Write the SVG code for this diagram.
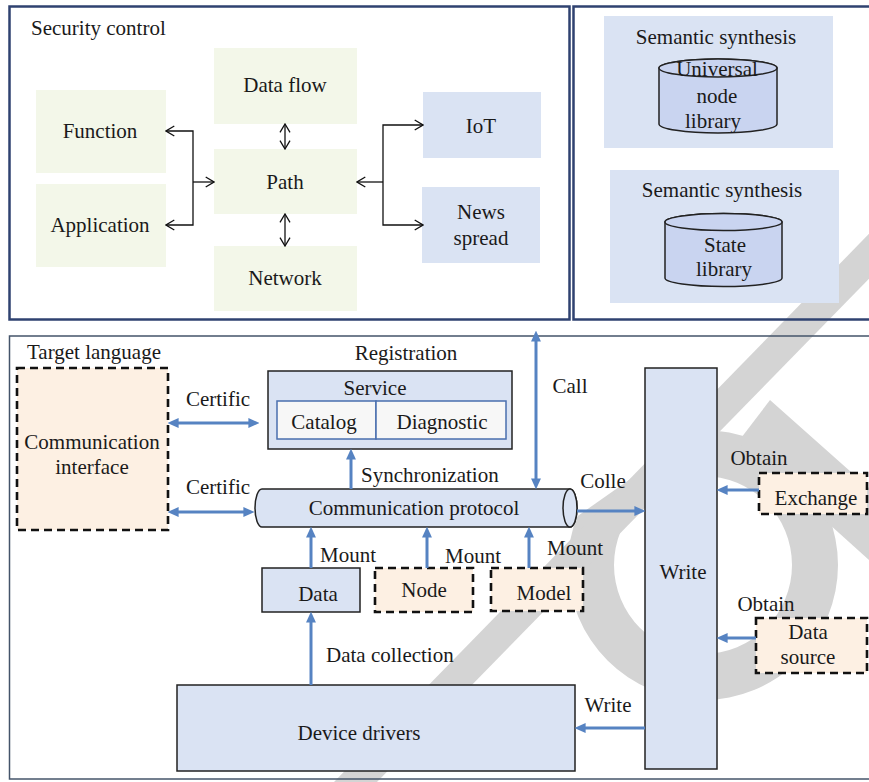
<svg xmlns="http://www.w3.org/2000/svg" width="869" height="782" viewBox="0 0 869 782">
<defs>
<style>
text{font-family:"Liberation Serif","Times New Roman",serif;font-size:21px;fill:#1a1a1a;text-anchor:middle}
.st{text-anchor:start}
.frame{fill:none;stroke:#2f4270;stroke-width:2.5}
.g{fill:#f3f7e9}
.b{fill:#dae3f3}
.bs{fill:#dae3f3;stroke:#222;stroke-width:1.5}
.cyl{fill:#c9d4f0;stroke:#222;stroke-width:1.5}
.dash{fill:#fdf0e3;stroke:#111;stroke-width:2.6;stroke-dasharray:8 5}
.sub{fill:#f7f7f7;stroke:#4a6fae;stroke-width:1.5}
.bk{fill:none;stroke:#111;stroke-width:1.3}
.bl{fill:none;stroke:#5683c2;stroke-width:3}
.wm{fill:#d4d4d4}
</style>
<marker id="ba" viewBox="0 0 10 10" refX="6" refY="5" markerWidth="11" markerHeight="11" markerUnits="userSpaceOnUse" orient="auto-start-reverse"><path d="M0,0.5 L10,5 L0,9.5 Z" fill="#5683c2"/></marker>
<marker id="ka" viewBox="0 0 10 12" refX="9.3" refY="6" markerWidth="10" markerHeight="12" markerUnits="userSpaceOnUse" orient="auto-start-reverse"><path d="M1,1 L9.3,6 L1,11" fill="none" stroke="#111" stroke-width="1.3"/></marker>
</defs>
<rect width="869" height="782" fill="#fff"/>

<g id="watermark">
<path class="wm" fill-rule="evenodd" d="M568,565 A135,135 0 1 0 838,565 A135,135 0 1 0 568,565 Z M614,565 A89,89 0 1 1 792,565 A89,89 0 1 1 614,565 Z"/>
<polygon fill="#fff" points="555,532 700,430 700,380 555,380"/>
<polygon class="wm" points="902,200 946,200 377,782 334,782"/>
<polygon class="wm" points="770,400 869,488 869,560 738,442"/>
</g>

<g id="frames">
<rect class="frame" x="9.5" y="6.5" width="560" height="313"/>
<rect class="frame" x="573.5" y="6.5" width="300" height="313"/>
<rect x="9.5" y="336" width="865" height="443" fill="none" stroke="#44546a" stroke-width="1.5"/>
</g>

<text class="st" x="31" y="35">Security control</text>

<g id="function"><rect class="g" x="36" y="90" width="130" height="83"/><text x="100" y="138">Function</text></g>
<g id="application"><rect class="g" x="36" y="184" width="130" height="83"/><text x="100" y="232">Application</text></g>
<g id="dataflow"><rect class="g" x="214" y="48" width="143" height="76"/><text x="285" y="92">Data flow</text></g>
<g id="path"><rect class="g" x="214" y="149" width="143" height="65"/><text x="285" y="189">Path</text></g>
<g id="network"><rect class="g" x="214" y="246" width="143" height="65"/><text x="285" y="285">Network</text></g>
<g id="iot"><rect class="b" x="423" y="92" width="118" height="66"/><text x="481" y="133">IoT</text></g>
<g id="news"><rect class="b" x="422" y="187" width="118" height="76"/><text x="481" y="219">News</text><text x="481" y="245">spread</text></g>

<g id="semantic1"><rect class="b" x="604" y="16" width="229" height="132"/><text x="716" y="44">Semantic synthesis</text>
<path class="cyl" d="M659,68 V124 A59,9 0 0 0 777,124 V68 A59,9 0 0 0 659,68 Z"/><ellipse class="cyl" cx="718" cy="68" rx="59" ry="9"/>
<text x="717" y="76">Universal</text><text x="717" y="103">node</text><text x="713" y="128">library</text></g>
<g id="semantic2"><rect class="b" x="610" y="170" width="229" height="133"/><text x="722" y="197">Semantic synthesis</text>
<path class="cyl" d="M665,222 V278 A58.5,8.5 0 0 0 782,278 V222 A58.5,8.5 0 0 0 665,222 Z"/><ellipse class="cyl" cx="723.5" cy="222" rx="58.5" ry="8.5"/>
<text x="725" y="252">State</text><text x="724" y="276">library</text></g>

<text class="st" x="27" y="359">Target language</text>
<g id="comm-interface"><rect class="dash" x="17" y="368" width="151" height="162"/><text x="92" y="449">Communication</text><text x="92" y="474">interface</text></g>

<g id="service"><text x="406" y="360">Registration</text><rect class="bs" x="268" y="371" width="244" height="78"/><text x="375" y="395">Service</text>
<rect class="sub" x="277" y="401" width="99" height="38"/><rect class="sub" x="376" y="401" width="130" height="38"/>
<text x="324" y="429">Catalog</text><text x="442" y="429">Diagnostic</text></g>

<g id="protocol"><path class="bs" d="M262,489 H570 A7,19 0 0 1 570,527 H262 A7,19 0 0 1 262,489 Z"/><ellipse class="bs" cx="570" cy="508" rx="7" ry="19"/><text x="414" y="515">Communication protocol</text></g>

<g id="write-col"><rect class="bs" x="645" y="368" width="72" height="401"/><text x="683" y="579">Write</text></g>
<g id="exchange"><rect class="dash" x="759" y="473" width="108" height="41"/><text x="816" y="505">Exchange</text></g>
<g id="datasource"><rect class="dash" x="756" y="618" width="111" height="55"/><text x="808" y="639">Data</text><text x="808" y="664">source</text></g>
<g id="device"><rect class="bs" x="177" y="685" width="398" height="86"/><text x="359" y="740">Device drivers</text></g>
<g id="data"><rect class="bs" x="262" y="568" width="98" height="44"/><text x="318" y="601">Data</text></g>
<g id="node"><rect class="dash" x="375" y="568" width="98" height="44"/><text x="424" y="597">Node</text></g>
<g id="model"><rect class="dash" x="491" y="568" width="92" height="43"/><text x="544" y="600">Model</text></g>

<g id="connectors">
<path class="bk" d="M166,131 H193 V225 H166" marker-start="url(#ka)" marker-end="url(#ka)"/>
<path class="bk" d="M193,182 H214" marker-end="url(#ka)"/>
<path class="bk" d="M285,124 V149" marker-start="url(#ka)" marker-end="url(#ka)"/>
<path class="bk" d="M285,214 V246" marker-start="url(#ka)" marker-end="url(#ka)"/>
<path class="bk" d="M423,125 H383 V225 H423" marker-start="url(#ka)" marker-end="url(#ka)"/>
<path class="bk" d="M383,182 H357" marker-end="url(#ka)"/>

<path class="bl" d="M172,423 H255" marker-start="url(#ba)" marker-end="url(#ba)"/>
<path class="bl" d="M172,512 H250" marker-start="url(#ba)" marker-end="url(#ba)"/>
<path class="bl" d="M351,489 V453" marker-end="url(#ba)"/>
<path class="bl" d="M536,335 V485" marker-start="url(#ba)" marker-end="url(#ba)"/>
<path class="bl" d="M577,511 H641" marker-end="url(#ba)"/>
<path class="bl" d="M759,490 H721" marker-end="url(#ba)"/>
<path class="bl" d="M756,638 H721" marker-end="url(#ba)"/>
<path class="bl" d="M645,728 H579" marker-end="url(#ba)"/>
<path class="bl" d="M311,685 V616" marker-end="url(#ba)"/>
<path class="bl" d="M311,568 V531" marker-end="url(#ba)"/>
<path class="bl" d="M427,568 V531" marker-end="url(#ba)"/>
<path class="bl" d="M529,568 V531" marker-end="url(#ba)"/>

<text x="218" y="406">Certific</text>
<text x="218" y="494">Certific</text>
<text class="st" x="361" y="482">Synchronization</text>
<text x="570" y="393">Call</text>
<text x="603" y="488">Colle</text>
<text x="759" y="465">Obtain</text>
<text x="766" y="611">Obtain</text>
<text x="608" y="712">Write</text>
<text class="st" x="326" y="662">Data collection</text>
<text x="348" y="562">Mount</text>
<text x="473" y="563">Mount</text>
<text x="575" y="555">Mount</text>
</g>
</svg>
